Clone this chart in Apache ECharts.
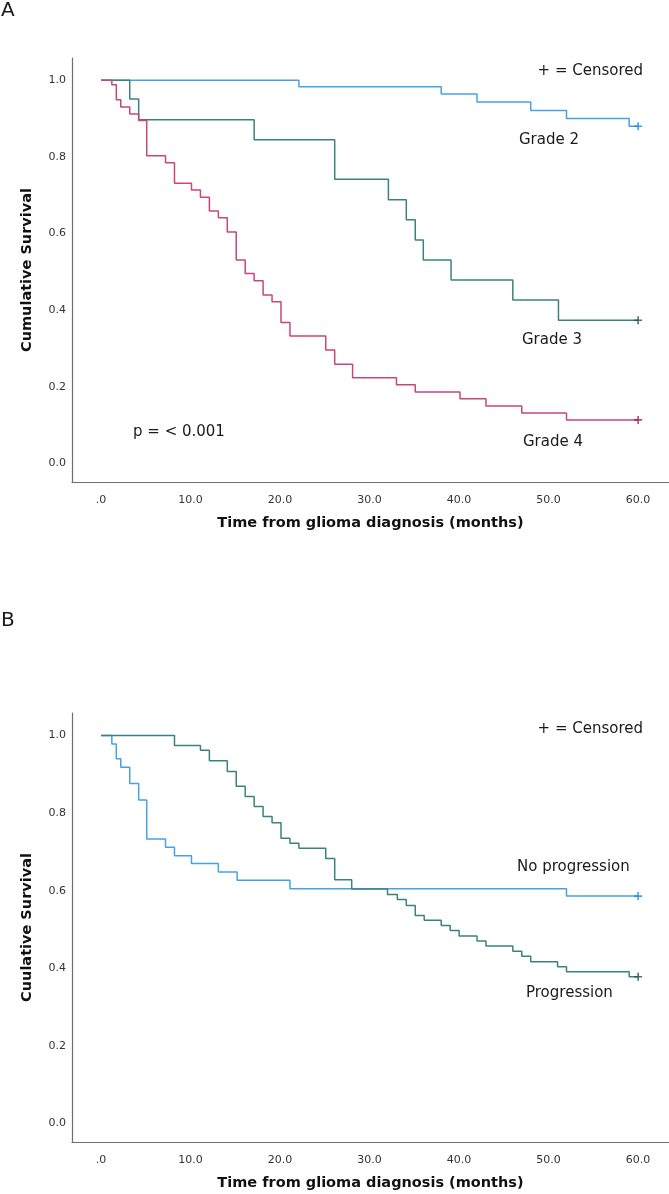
<!DOCTYPE html>
<html>
<head>
<meta charset="utf-8">
<script src="https://cdn.jsdelivr.net/npm/echarts@6/dist/echarts.min.js"></script>
<style>
html,body{margin:0;padding:0;background:#fff;}
#chart{width:669px;height:1194px;}
</style>
</head>
<body>
<div id="chart"></div>
<script>
// ---------- DATA ----------
const xTickValues = [0, 10, 20, 30, 40, 50, 60];
const yTickValues = [0, 0.2, 0.4, 0.6, 0.8, 1.0];

// Panel A: survival by grade
const grade2Times  = [0, 22.1, 38.0, 42.0, 48.0, 52.0, 59.0, 60];
const grade2Surv   = [1.0, 0.983, 0.964, 0.943, 0.921, 0.900, 0.880, 0.880];

const grade3Times  = [0, 3.2, 4.2, 17.1, 26.1, 32.1, 34.1, 35.1, 36.0, 39.1, 46.0, 51.1, 60];
const grade3Surv   = [1.0, 0.951, 0.897, 0.845, 0.742, 0.688, 0.636, 0.583, 0.531, 0.479, 0.427, 0.374, 0.374];

const grade4Times  = [0, 1.2, 1.7, 2.2, 3.2, 4.2, 5.1, 7.2, 8.2, 10.1, 11.1, 12.1, 13.1, 14.1, 15.1, 16.1, 17.1, 18.1, 19.1, 20.1, 21.1, 25.1, 26.1, 28.1, 33.0, 35.1, 40.1, 43.0, 47.0, 52.0, 60];
const grade4Surv   = [1.0, 0.988, 0.949, 0.930, 0.912, 0.895, 0.803, 0.785, 0.731, 0.714, 0.695, 0.659, 0.641, 0.604, 0.531, 0.496, 0.477, 0.440, 0.422, 0.368, 0.333, 0.296, 0.259, 0.224, 0.206, 0.187, 0.169, 0.150, 0.132, 0.114, 0.114];

// Panel B: survival by progression
const noProgTimes  = [0, 1.2, 1.7, 2.2, 3.2, 4.2, 5.1, 7.2, 8.2, 10.1, 13.1, 15.2, 21.1, 52.0, 60];
const noProgSurv   = [1.0, 0.978, 0.940, 0.918, 0.876, 0.834, 0.733, 0.712, 0.690, 0.670, 0.648, 0.627, 0.605, 0.586, 0.586];

const progTimes    = [0, 8.2, 11.1, 12.1, 14.1, 15.1, 16.1, 17.1, 18.1, 19.1, 20.1, 21.1, 22.1, 25.1, 26.1, 28.0, 32.0, 33.1, 34.1, 35.1, 36.1, 38.0, 39.0, 40.0, 42.0, 43.0, 46.0, 47.0, 48.0, 51.0, 52.0, 59.0, 60];
const progSurv     = [1.0, 0.974, 0.962, 0.935, 0.907, 0.869, 0.843, 0.817, 0.791, 0.775, 0.735, 0.722, 0.709, 0.683, 0.628, 0.604, 0.590, 0.577, 0.562, 0.536, 0.524, 0.510, 0.497, 0.483, 0.470, 0.457, 0.444, 0.431, 0.417, 0.404, 0.391, 0.378, 0.378];

// ---------- CHART ----------
const FONT = '"DejaVu Sans", "Open Sans", sans-serif';
const COL_BLUE = '#45a2e8', COL_TEAL = '#3a8282', COL_PINK = '#c8467c';
const CEN_BLUE = '#1d84d8', CEN_TEAL = '#174f50', CEN_PINK = '#a3164c';
const PLUS = 'path://M4,0H6V4H10V6H6V10H4V6H0V4H4Z';

function pairs(t, s) { return t.map((v, i) => [v, s[i]]); }
function last(t, s) { return [[t[t.length - 1], s[s.length - 1]]]; }

function xAxisCfg(gridIndex) {
  return {
    type: 'value', gridIndex, min: -3.25, max: 63.45,
    name: 'Time from glioma diagnosis (months)', nameLocation: 'middle', nameGap: 41,
    nameTextStyle: { fontFamily: FONT, fontWeight: 'bold', fontSize: 14.5, color: '#111', verticalAlign: 'middle' },
    axisLine: { show: true, onZero: false, lineStyle: { color: '#6e6e6e', width: 1.2 } },
    axisTick: { show: false },
    splitLine: { show: false },
    axisLabel: {
      customValues: xTickValues, margin: 13, fontFamily: FONT, fontSize: 11, color: '#333',
      formatter: v => (v === 0 ? '.0' : v.toFixed(1))
    }
  };
}
function yAxisCfg(gridIndex, title) {
  return {
    type: 'value', gridIndex, min: -0.048, max: 1.058,
    name: title, nameLocation: 'middle', nameGap: 45,
    nameTextStyle: { fontFamily: FONT, fontWeight: 'bold', fontSize: 14.5, color: '#111', verticalAlign: 'middle' },
    axisLine: { show: true, onZero: false, lineStyle: { color: '#6e6e6e', width: 1.2 } },
    axisTick: { show: false },
    splitLine: { show: false },
    axisLabel: {
      customValues: yTickValues, margin: 6, fontFamily: FONT, fontSize: 11, color: '#333',
      formatter: v => v.toFixed(1)
    }
  };
}
function km(name, xi, t, s, color) {
  return {
    name, type: 'line', step: 'end', xAxisIndex: xi, yAxisIndex: xi,
    data: pairs(t, s), showSymbol: false, symbol: 'none',
    lineStyle: { color, width: 1.5 }, itemStyle: { color }, animation: false, silent: true
  };
}
function cens(name, xi, t, s, color) {
  return {
    name: name + ' censored', type: 'scatter', xAxisIndex: xi, yAxisIndex: xi,
    data: last(t, s), symbol: PLUS, symbolSize: 8,
    itemStyle: { color }, animation: false, silent: true, z: 5
  };
}
function txt(text, x, y, align, size) {
  return {
    type: 'text', silent: true,
    style: {
      text, x, y, fill: '#1a1a1a', font: (size || 15) + 'px ' + FONT,
      textAlign: align || 'left', align: align || 'left',
      textVerticalAlign: 'middle', verticalAlign: 'middle'
    }
  };
}

const chart = echarts.init(document.getElementById('chart'), null, { renderer: 'canvas' });
chart.setOption({
  backgroundColor: '#fff',
  animation: false,
  grid: [
    { left: 72, top: 58, width: 597, height: 424 },
    { left: 72, top: 713, width: 597, height: 429 }
  ],
  xAxis: [xAxisCfg(0), xAxisCfg(1)],
  yAxis: [yAxisCfg(0, 'Cumulative Survival'), yAxisCfg(1, 'Cuulative Survival')],
  series: [
    km('Grade 2', 0, grade2Times, grade2Surv, COL_BLUE),
    km('Grade 3', 0, grade3Times, grade3Surv, COL_TEAL),
    km('Grade 4', 0, grade4Times, grade4Surv, COL_PINK),
    cens('Grade 2', 0, grade2Times, grade2Surv, CEN_BLUE),
    cens('Grade 3', 0, grade3Times, grade3Surv, CEN_TEAL),
    cens('Grade 4', 0, grade4Times, grade4Surv, CEN_PINK),
    km('No progression', 1, noProgTimes, noProgSurv, COL_BLUE),
    km('Progression', 1, progTimes, progSurv, COL_TEAL),
    cens('No progression', 1, noProgTimes, noProgSurv, CEN_BLUE),
    cens('Progression', 1, progTimes, progSurv, CEN_TEAL)
  ],
  graphic: [
    txt('A', 1, 11, 'left', 20),
    txt('+ = Censored', 643, 71, 'right'),
    txt('Grade 2', 519, 140),
    txt('Grade 3', 522, 340),
    txt('Grade 4', 523, 442),
    txt('p = < 0.001', 133, 432),
    txt('B', 1, 621, 'left', 20),
    txt('+ = Censored', 643, 729, 'right'),
    txt('No progression', 517, 867),
    txt('Progression', 526, 993)
  ]
});
</script>
</body>
</html>
